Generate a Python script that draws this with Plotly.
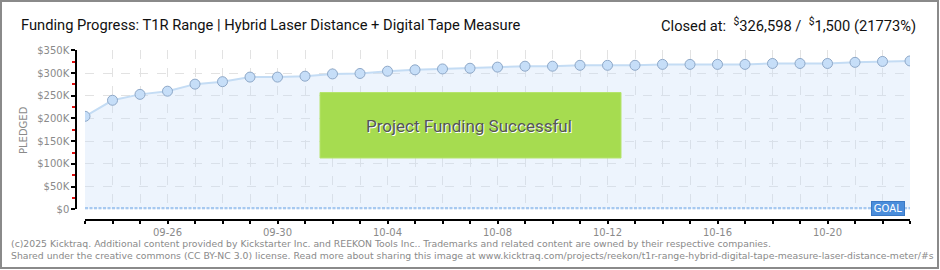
import plotly.graph_objects as go
import pandas as pd

# ---- data ----
dates = pd.date_range("2025-09-23", "2025-10-23", freq="D").strftime("%Y-%m-%d").tolist()
pledged = [204700, 240000, 253000, 260000, 275500, 281000, 291000, 291000, 293000, 298000,
           299000, 304000, 307000, 309000, 310500, 313000, 315000, 315000, 317000, 317000,
           317000, 319000, 319000, 319000, 319000, 321000, 321000, 321000, 323500, 325500,
           326598]
goal = 1500
y_tickvals = [0, 50000, 100000, 150000, 200000, 250000, 300000, 350000]
y_ticktext = ["$0", "$50K", "$100K", "$150K", "$200K", "$250K", "$300K", "$350K"]
title_text = "Funding Progress: T1R Range | Hybrid Laser Distance + Digital Tape Measure"
closed_text = "Closed at:  <sup>$</sup>326,598 /  <sup>$</sup>1,500 (21773%)"
footer1 = "(c)2025 Kicktraq. Additional content provided by Kickstarter Inc. and REEKON Tools Inc.. Trademarks and related content are owned by their respective companies."
footer2 = "Shared under the creative commons (CC BY-NC 3.0) license. Read more about sharing this image at www.kicktraq.com/projects/reekon/t1r-range-hybrid-digital-tape-measure-laser-distance-meter/#s"

W, H = 940, 270
def px(x):
    return x / W
def py(y):
    return (H - y) / H

NARROW = "Roboto, sans-serif"
TICKF = dict(family="DejaVu Sans, sans-serif", size=10, color="#8a8a8a")

fig = go.Figure()

# goal line
fig.add_trace(go.Scatter(
    x=[dates[0], dates[-1]], y=[goal, goal], mode="lines",
    line=dict(color="#98c0ec", width=3, dash="3px,1.5px"),
    hoverinfo="skip", showlegend=False))

# pledged area
fig.add_trace(go.Scatter(
    x=dates, y=pledged, mode="lines+markers", fill="tozeroy",
    fillcolor="rgba(200,222,248,0.32)",
    line=dict(color="#c4dcf4", width=2),
    marker=dict(size=10, color="#c6def8", line=dict(color="#8ea8c8", width=1)),
    showlegend=False))

fig.update_layout(
    width=W, height=H, margin=dict(l=0, r=0, t=0, b=0),
    paper_bgcolor="white", plot_bgcolor="white",
    template="none", showlegend=False,
    xaxis=dict(
        domain=[px(85), px(910)], anchor="free", position=py(220),
        type="date", range=[dates[0], dates[-1]],
        tick0="2025-09-26", dtick=4 * 86400000, tickformat="%m-%d",
        ticks="outside", ticklen=3, tickcolor="black", tickwidth=1.5,
        showline=True, linecolor="black", linewidth=1.5,
        showgrid=True, gridcolor="#e2e2e2", griddash="dash", gridwidth=1,
        zeroline=False, tickfont=TICKF, automargin=False,
        minor=dict(dtick=86400000, ticks="outside", ticklen=3, tickcolor="black",
                   tickwidth=1.5, showgrid=True, gridcolor="#e2e2e2", griddash="dash"),
    ),
    yaxis=dict(
        domain=[py(209.3), py(50.3)], anchor="free", position=px(76),
        range=[0, 350000], tickvals=y_tickvals, ticktext=y_ticktext,
        ticks="outside", ticklen=4, tickcolor="black", tickwidth=1.5,
        showline=True, linecolor="black", linewidth=1.5,
        showgrid=True, gridcolor="#e2e2e2", griddash="dash", gridwidth=1,
        zeroline=False, tickfont=TICKF, automargin=False,
        minor=dict(tickvals=[25000, 75000, 125000, 175000, 225000, 275000, 325000],
                   ticks="outside", ticklen=3, tickcolor="#e01010", tickwidth=1.5,
                   showgrid=False),
    ),
)

shapes = [
    # success box
    dict(type="rect", xref="paper", yref="paper",
         x0=px(320), x1=px(621), y0=py(158), y1=py(92.5),
         fillcolor="#a6dc50", line=dict(color="#b5e46c", width=1), layer="above"),
    # outer border
    dict(type="rect", xref="paper", yref="paper",
         x0=px(1), x1=px(938), y0=py(268), y1=py(1),
         fillcolor="rgba(0,0,0,0)", line=dict(color="#8a8a8a", width=2)),
]
fig.update_layout(shapes=shapes)

ann = [
    dict(text=title_text, x=px(19), y=py(25), xref="paper", yref="paper",
         xanchor="left", yanchor="middle", showarrow=False,
         font=dict(family=NARROW, size=14.7, color="#111")),
    dict(text=closed_text, x=px(918), y=py(25), xref="paper", yref="paper",
         xanchor="right", yanchor="middle", showarrow=False,
         font=dict(family=NARROW, size=14.7, color="#111")),
    dict(text="PLEDGED", x=px(23), y=py(130), xref="paper", yref="paper",
         xanchor="center", yanchor="middle", showarrow=False, textangle=-90,
         font=dict(family="DejaVu Sans, sans-serif", size=10, color="#8a8a8a")),
    dict(text="Project Funding Successful", x=px(469), y=py(126), xref="paper", yref="paper",
         xanchor="center", yanchor="middle", showarrow=False,
         font=dict(family=NARROW, size=17, color="#555555", shadow="1px 1px 0px #ffffff")),
    dict(text="GOAL", x=px(888), y=py(208.5), xref="paper", yref="paper",
         xanchor="center", yanchor="middle", showarrow=False,
         bgcolor="#4a8ddb", bordercolor="#3a78c4", borderwidth=1, borderpad=1,
         width=30, height=11,
         font=dict(family="DejaVu Sans, sans-serif", size=10, color="white")),
    dict(text=footer1, x=px(9), y=py(243.5), xref="paper", yref="paper",
         xanchor="left", yanchor="middle", showarrow=False,
         font=dict(family="DejaVu Sans, sans-serif", size=9.3, color="#8a8a8a")),
    dict(text=footer2, x=px(9), y=py(255.5), xref="paper", yref="paper",
         xanchor="left", yanchor="middle", showarrow=False,
         font=dict(family="DejaVu Sans, sans-serif", size=9.3, color="#8a8a8a")),
]
fig.update_layout(annotations=ann)

fig.write_html("out.html")
